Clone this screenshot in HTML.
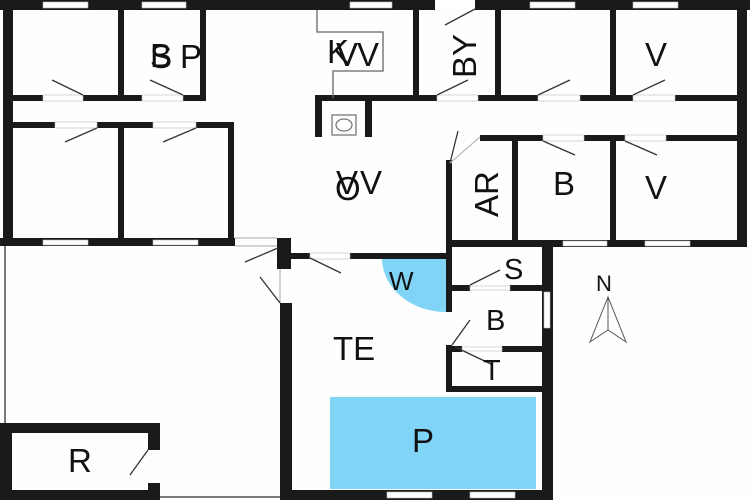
<!DOCTYPE html>
<html><head><meta charset="utf-8"><style>
html,body{margin:0;padding:0;background:#fff}
svg{display:block}
text{font-family:"Liberation Sans",sans-serif;fill:#111}
</style></head><body>
<svg width="750" height="500" viewBox="0 0 750 500" xmlns="http://www.w3.org/2000/svg">
<rect width="750" height="500" fill="#fefefe"/>
<!-- pool & W -->
<rect x="330" y="397" width="206" height="92" fill="#80d4f6"/>
<path d="M446 258 L382 258 A64 54 0 0 0 446 312 Z" fill="#80d4f6"/>
<g fill="#1a1a1a">
<!-- outer top -->
<rect x="0" y="0" width="750" height="10"/>
<rect x="3" y="0" width="10" height="246"/>
<rect x="737" y="0" width="10" height="247"/>
<!-- row1 left -->
<rect x="13" y="95" width="193" height="6"/>
<rect x="118" y="10" width="6" height="90"/>
<rect x="200" y="10" width="6" height="90"/>
<!-- row2 left -->
<rect x="13" y="122" width="221" height="6"/>
<rect x="118" y="122" width="6" height="122"/>
<rect x="228" y="122" width="6" height="122"/>
<rect x="0" y="238" width="235" height="8"/>
<!-- kitchen -->
<rect x="315" y="95" width="422" height="6"/>
<rect x="315" y="95" width="7" height="42"/>
<rect x="365" y="95" width="7" height="42"/>
<rect x="413" y="10" width="6" height="90"/>
<rect x="495" y="10" width="6" height="90"/>
<rect x="610" y="10" width="6" height="90"/>
<!-- row2 right -->
<rect x="480" y="135" width="257" height="6"/>
<rect x="446" y="160" width="6" height="88"/>
<rect x="512" y="135" width="6" height="110"/>
<rect x="610" y="135" width="6" height="110"/>
<rect x="446" y="240" width="301" height="7"/>
<!-- TE -->
<rect x="277" y="238" width="14" height="31"/>
<rect x="291" y="253" width="19" height="6"/>
<rect x="350" y="253" width="100" height="6"/>
<rect x="280" y="303" width="12" height="197"/>
<rect x="446" y="240" width="6" height="72"/>
<rect x="446" y="345" width="6" height="47"/>
<rect x="446" y="386" width="96" height="6"/>
<rect x="542" y="240" width="11" height="260"/>
<rect x="446" y="285" width="24" height="6"/>
<rect x="510" y="285" width="32" height="6"/>
<rect x="446" y="346" width="16" height="6"/>
<rect x="502" y="346" width="40" height="6"/>
<rect x="280" y="490" width="273" height="10"/>
<!-- R -->
<rect x="0" y="423" width="160" height="10"/>
<rect x="0" y="423" width="12" height="77"/>
<rect x="148" y="423" width="12" height="27"/>
<rect x="148" y="483" width="12" height="17"/>
<rect x="0" y="490" width="160" height="10"/>
</g>
<!-- windows/gaps -->
<g fill="#fff" stroke="#bbb" stroke-width="0.6">
<rect x="43" y="2" width="45" height="6"/><rect x="142" y="2" width="44" height="6"/>
<rect x="350" y="2" width="42" height="6"/><rect x="435" y="0" width="40" height="10" stroke="none"/>
<rect x="530" y="2" width="45" height="6"/><rect x="633" y="2" width="45" height="6"/>
<rect x="43" y="95" width="40" height="6"/><rect x="142" y="95" width="41" height="6"/>
<rect x="55" y="122" width="42" height="6"/><rect x="153" y="122" width="43" height="6"/>
<rect x="43" y="240" width="45" height="5"/><rect x="153" y="240" width="45" height="5"/>
<rect x="437" y="95" width="41" height="6"/><rect x="538" y="95" width="42" height="6"/><rect x="633" y="95" width="42" height="6"/>
<rect x="543" y="135" width="41" height="6"/><rect x="625" y="135" width="41" height="6"/>
<rect x="563" y="241" width="44" height="5"/><rect x="645" y="241" width="45" height="5"/>
<rect x="544" y="292" width="6" height="36"/>
<rect x="387" y="492" width="45" height="6"/><rect x="470" y="492" width="45" height="6"/>
<rect x="310" y="253" width="40" height="6"/>
<rect x="470" y="286" width="40" height="4"/><rect x="462" y="347" width="40" height="4"/>
</g>
<!-- thin lines -->
<g stroke="#333" stroke-width="1.3" fill="none">
<line x1="5" y1="246" x2="5" y2="423"/>
<line x1="160" y1="497" x2="280" y2="497"/>
<line x1="235" y1="238" x2="277" y2="238" stroke="#bbb"/>
<line x1="235" y1="246" x2="277" y2="246" stroke="#bbb"/>
<line x1="280" y1="269" x2="280" y2="303" stroke="#bbb"/>
<path d="M317 10 V32 H383 V71 H333 V98" stroke="#666"/>
<rect x="332" y="115" width="24" height="20" stroke="#777"/>
<ellipse cx="344" cy="125" rx="8" ry="6" stroke="#777"/>
<line x1="52" y1="80" x2="83" y2="95"/><line x1="150" y1="80" x2="183" y2="95"/>
<line x1="65" y1="142" x2="97" y2="128"/><line x1="163" y1="142" x2="196" y2="128"/>
<line x1="445" y1="25" x2="475" y2="9"/><line x1="437" y1="95" x2="468" y2="80"/>
<line x1="538" y1="95" x2="570" y2="80"/><line x1="633" y1="95" x2="665" y2="80"/>
<line x1="543" y1="141" x2="575" y2="155"/><line x1="625" y1="141" x2="657" y2="155"/>
<line x1="450" y1="163" x2="458" y2="131"/>
<line x1="450" y1="163" x2="480" y2="137" stroke="#bbb"/>
<line x1="245" y1="262" x2="278" y2="248"/><line x1="260" y1="277" x2="280" y2="303"/>
<line x1="310" y1="258" x2="341" y2="273"/>
<line x1="470" y1="285" x2="500" y2="270"/>
<line x1="452" y1="345" x2="470" y2="320"/>
<line x1="455" y1="347" x2="493" y2="365"/>
<line x1="130" y1="475" x2="148" y2="450"/>
<path d="M608 297 L590 342 L608 330 L626 342 Z M608 297 V330" stroke="#555" stroke-width="1"/>
</g>
<!-- labels -->
<g font-size="33">
<text x="150" y="67">B</text><text x="150" y="68">S</text><text x="180" y="68">P</text>
<text x="327" y="63">K</text><text x="336" y="66">V</text><text x="357" y="66">V</text>
<text transform="translate(476,78) rotate(-90)">BY</text>
<text x="645" y="66">V</text>
<text x="335" y="200">O</text><text x="336" y="194">V</text><text x="360" y="194">V</text>
<text transform="translate(498,217) rotate(-90)">AR</text>
<text x="553" y="195">B</text><text x="645" y="199">V</text>
<text x="389" y="290" font-size="26">W</text>
<text x="504" y="279" font-size="29">S</text>
<text x="486" y="330" font-size="29">B</text>
<text x="483" y="380" font-size="29">T</text>
<text x="333" y="360">TE</text>
<text x="412" y="452">P</text>
<text x="68" y="472">R</text>
<text x="596" y="291" font-size="22">N</text>
</g>
</svg>
</body></html>
